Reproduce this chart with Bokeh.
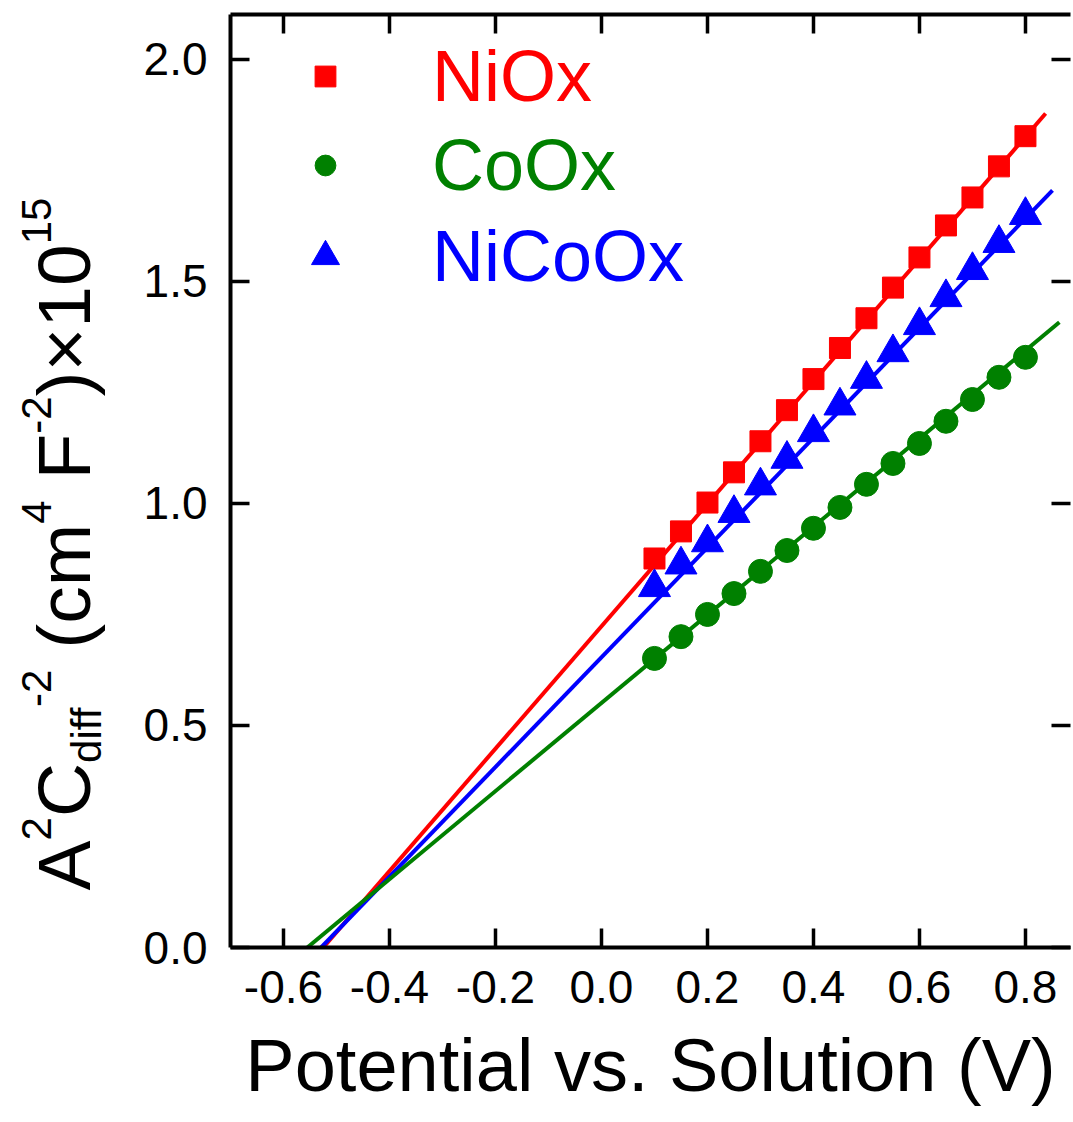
import math
from bokeh.plotting import figure
from bokeh.layouts import row
from bokeh.models import (Range1d, LinearAxis, FixedTicker, Legend, LegendItem,
                          CustomJSTickFormatter, ColumnDataSource)
from bokeh.core.properties import value
from bokeh.embed import file_html
from bokeh.resources import INLINE

# ---------------- data ----------------
potential = [0.10, 0.15, 0.20, 0.25, 0.30, 0.35, 0.40, 0.45,
             0.50, 0.55, 0.60, 0.65, 0.70, 0.75, 0.80]
niox = [0.876, 0.937, 1.002, 1.070, 1.140, 1.210, 1.280, 1.350,
        1.417, 1.486, 1.554, 1.626, 1.689, 1.759, 1.827]
coox = [0.651, 0.700, 0.750, 0.797, 0.847, 0.894, 0.944, 0.991,
        1.043, 1.090, 1.135, 1.185, 1.234, 1.284, 1.329]
nicoox = [0.811, 0.862, 0.912, 0.978, 1.040, 1.100, 1.160, 1.220,
          1.280, 1.340, 1.401, 1.464, 1.525, 1.586, 1.649]

fit_x_niox = [-0.525, 0.838]
fit_y_niox = [0.0, 1.878]
fit_x_coox = [-0.555, 0.864]
fit_y_coox = [0.0, 1.408]
fit_x_nicoox = [-0.529, 0.851]
fit_y_nicoox = [0.0, 1.705]

series_names = ["NiOx", "CoOx", "NiCoOx"]
series_colors = ["#FF0000", "#008000", "#0000FF"]

x_ticks = [-0.6, -0.4, -0.2, 0.0, 0.2, 0.4, 0.6, 0.8]
x_tick_labels = ["-0.6", "-0.4", "-0.2", "0.0", "0.2", "0.4", "0.6", "0.8"]
y_ticks = [0.0, 0.5, 1.0, 1.5, 2.0]
y_tick_labels = ["0.0", "0.5", "1.0", "1.5", "2.0"]

x_title = "Potential vs. Solution (V)"
# y title pieces: (text, role); "gap" pieces are word spaces
y_title_pieces = [("A", "main"), ("2", "sup"), ("C", "main"), ("diff", "sub"),
                  ("-2", "sup"), (" ", "gap"), ("(cm", "main"), ("4", "sup"),
                  (" ", "gap"), ("F", "main"), ("-2", "sup"), (")", "main"),
                  ("\u00d7", "main"), ("10", "main"), ("15", "sup")]

FONT = "Liberation Sans"
H = 1120
TOP, BOTTOM = 14, 947          # frame top / bottom in canvas pixels

# ---------------- main figure ----------------
p = figure(width=943, height=H,
           x_range=Range1d(-0.7, 0.885), y_range=Range1d(0, 2.101),
           output_backend="svg", toolbar_location=None)
p.min_border = 0
p.min_border_left = 100
p.min_border_right = 3
p.min_border_top = TOP
p.min_border_bottom = H - BOTTOM
p.outline_line_color = None
p.grid.visible = False
p.background_fill_color = "white"
p.border_fill_color = "white"


def style_axis(ax, ticks, labels):
    ax.ticker = FixedTicker(ticks=ticks)
    ax.major_label_overrides = dict(zip(ticks, labels))
    ax.major_tick_in = 19
    ax.major_tick_out = 0
    ax.major_tick_line_width = 3.5
    ax.major_tick_line_color = "black"
    ax.minor_tick_line_color = None
    ax.axis_line_width = 4
    ax.axis_line_color = "black"
    ax.major_label_text_color = "black"


def blank_axis(ax, ticks):
    ax.ticker = FixedTicker(ticks=ticks)
    ax.formatter = CustomJSTickFormatter(code="return ''")
    ax.major_label_text_font_size = "0px"
    ax.major_label_standoff = 0
    ax.major_tick_in = 19
    ax.major_tick_out = 0
    ax.major_tick_line_width = 3.5
    ax.major_tick_line_color = "black"
    ax.minor_tick_line_color = None


xb = p.xaxis[0]
style_axis(xb, x_ticks, x_tick_labels)
xb.major_label_text_font = FONT
xb.major_label_text_font_size = "46px"
xb.major_label_standoff = 23
xb.axis_label = x_title
xb.axis_label_text_font = FONT
xb.axis_label_text_font_size = "74px"
xb.axis_label_text_font_style = "normal"
xb.axis_label_text_color = "black"
xb.axis_label_standoff = 18

yl = p.yaxis[0]
style_axis(yl, y_ticks, y_tick_labels)
yl.major_label_text_font = FONT
yl.major_label_text_font_size = "46px"
yl.major_label_standoff = 23

xt = LinearAxis()
blank_axis(xt, x_ticks)
xt.axis_line_width = 4
xt.axis_line_color = "black"
p.add_layout(xt, "above")

yr = LinearAxis()
blank_axis(yr, y_ticks)
yr.axis_line_color = None
p.add_layout(yr, "right")

# fit lines
p.line(fit_x_niox, fit_y_niox, line_width=4, color=series_colors[0])
p.line(fit_x_nicoox, fit_y_nicoox, line_width=4, color=series_colors[2])
p.line(fit_x_coox, fit_y_coox, line_width=4, color=series_colors[1])

# data points
r_ni = p.scatter(potential, niox, marker="square", size=21,
                 color=series_colors[0])
r_co = p.scatter(potential, coox, marker="circle", size=24,
                 color=series_colors[1])
r_nico = p.scatter(potential, nicoox, marker="triangle", size=32,
                   color=series_colors[2])

# legends (one per series so each label has its own colour)
legend_specs = [  # (renderer, location, glyph width, standoff)
    (r_ni, (69, 830), 52, 81),
    (r_co, (69, 741), 52, 81),
    (r_nico, (60, 650), 70, 72),
]
for (r, loc, gw, so), name, col in zip(legend_specs, series_names,
                                       series_colors):
    lg = Legend(items=[LegendItem(label=name, renderers=[r])],
                location=loc, glyph_width=gw, glyph_height=80,
                label_height=80, label_standoff=so, padding=0, margin=0,
                spacing=0, border_line_color=None, background_fill_alpha=0,
                label_text_font=FONT, label_text_font_size="72px",
                label_text_color=col, label_text_baseline="middle")
    p.add_layout(lg)

# ---------------- left strip holding the rotated y-axis title ----------------
LW = 130
t = figure(width=LW, height=H, x_range=Range1d(0, LW),
           y_range=Range1d(0, BOTTOM - TOP),
           output_backend="svg", toolbar_location=None,
           x_axis_location=None, y_axis_location=None)
t.min_border = 0
t.min_border_top = TOP
t.min_border_bottom = H - BOTTOM
t.outline_line_color = None
t.grid.visible = False
t.border_fill_color = "white"
t.background_fill_color = "white"

widths = {"A": 667, "C": 722, "d": 556, "i": 222, "f": 278, "(": 333,
          "c": 500, "m": 833, "F": 611, ")": 333, "\u00d7": 584, " ": 278,
          "-": 333, "0": 556, "1": 556, "2": 556, "4": 556, "5": 556}
MAIN, SMALL = 75, 42
baseline_x = {"main": 93, "sup": 52, "sub": 102}   # wanted baseline (px)
SHIFT = 0.39                                        # renderer baseline offset
xs, ys, texts, sizes = [], [], [], []
pos = BOTTOM - 890.0
for txt, role in y_title_pieces:
    size = SMALL if role in ("sup", "sub") else MAIN
    if role != "gap":
        xs.append(baseline_x[role] - SHIFT * size)
        ys.append(pos)
        texts.append(txt)
        sizes.append(f"{size}px")
    pos += sum(widths[ch] for ch in txt) * size / 1000.0

src = ColumnDataSource(dict(x=xs, y=ys, text=texts, size=sizes))
t.text(x="x", y="y", text="text", source=src, angle=math.pi / 2,
       text_font=value(FONT), text_font_size="size", text_align="left",
       text_baseline="alphabetic", text_color="black")

layout = row(t, p, spacing=0)
open("out.html", "w").write(file_html(layout, INLINE))
